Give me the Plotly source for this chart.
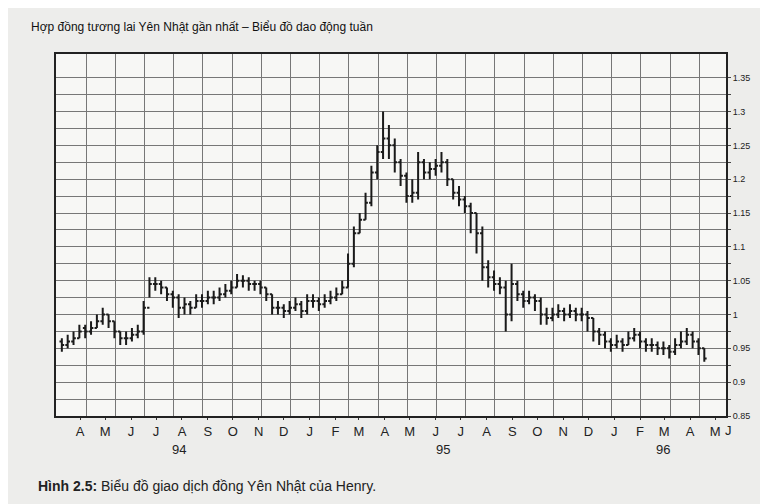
import plotly.graph_objects as go
import pandas as pd

start = "1994-03-20"
closes = [0.955,0.96,0.965,0.975,0.975,0.98,0.99,1.0,0.99,0.975,0.965,0.965,0.97,0.975,1.01,1.045,1.045,1.04,1.03,1.025,
          1.01,1.015,1.01,1.02,1.02,1.025,1.025,1.03,1.035,1.04,1.05,1.05,1.045,1.045,1.04,1.03,1.01,1.01,1.005,1.01,
          1.015,1.005,1.02,1.02,1.015,1.02,1.025,1.03,1.04,1.075,1.12,1.14,1.165,1.21,1.24,1.26,1.25,1.225,1.205,1.175,
          1.18,1.225,1.21,1.215,1.22,1.225,1.2,1.18,1.17,1.16,1.15,1.12,1.07,1.055,1.045,1.04,1.0,1.045,1.03,1.02,
          1.025,1.02,1.0,0.995,1.0,1.005,1.0,1.005,1.0,1.0,0.995,0.975,0.97,0.96,0.955,0.96,0.955,0.965,0.97,0.96,
          0.955,0.955,0.95,0.95,0.945,0.955,0.96,0.97,0.96,0.95,0.935]
opens = [0.96,0.955,0.96,0.965,0.98,0.975,0.98,0.99,1.0,0.99,0.975,0.965,0.965,0.97,0.975,1.01,1.045,1.045,1.04,1.03,
         1.025,1.01,1.015,1.01,1.02,1.02,1.025,1.025,1.03,1.035,1.04,1.05,1.05,1.045,1.045,1.04,1.03,1.01,1.01,1.005,
         1.01,1.015,1.005,1.02,1.02,1.015,1.02,1.025,1.03,1.04,1.075,1.12,1.14,1.165,1.21,1.24,1.26,1.25,1.225,1.205,
         1.175,1.18,1.225,1.21,1.215,1.22,1.225,1.2,1.18,1.17,1.16,1.15,1.12,1.07,1.055,1.045,1.04,1.0,1.045,1.03,
         1.02,1.025,1.02,1.0,0.995,1.0,1.005,1.0,1.005,1.0,1.0,0.995,0.975,0.97,0.96,0.955,0.96,0.955,0.965,0.97,
         0.96,0.955,0.955,0.95,0.95,0.945,0.955,0.96,0.97,0.96,0.95]
highs = [0.965,0.97,0.975,0.985,0.985,0.99,1.0,1.01,1.0,0.99,0.975,0.975,0.98,0.985,1.02,1.055,1.055,1.05,1.04,1.035,
         1.03,1.025,1.02,1.03,1.03,1.035,1.035,1.04,1.045,1.05,1.06,1.058,1.055,1.05,1.05,1.04,1.03,1.02,1.015,1.02,
         1.025,1.02,1.03,1.03,1.025,1.03,1.035,1.04,1.05,1.09,1.13,1.15,1.18,1.22,1.25,1.30,1.28,1.26,1.23,1.21,
         1.2,1.24,1.23,1.225,1.23,1.24,1.23,1.2,1.19,1.175,1.165,1.15,1.13,1.08,1.065,1.055,1.05,1.075,1.05,1.035,
         1.035,1.03,1.025,1.01,1.01,1.015,1.01,1.015,1.01,1.01,1.005,0.995,0.98,0.975,0.965,0.97,0.965,0.975,0.98,0.975,
         0.965,0.965,0.96,0.96,0.955,0.965,0.975,0.98,0.975,0.965,0.95]
lows = [0.945,0.95,0.955,0.965,0.965,0.97,0.98,0.985,0.98,0.965,0.955,0.955,0.96,0.965,0.97,1.025,1.035,1.03,1.02,1.01,
        0.995,1.0,1.0,1.01,1.01,1.015,1.015,1.02,1.025,1.03,1.04,1.04,1.035,1.035,1.03,1.02,1.0,1.0,0.995,1.0,
        1.005,0.995,1.0,1.01,1.005,1.01,1.015,1.02,1.03,1.04,1.07,1.12,1.14,1.16,1.2,1.23,1.23,1.21,1.19,1.165,
        1.165,1.17,1.2,1.2,1.205,1.21,1.19,1.17,1.16,1.15,1.12,1.09,1.05,1.04,1.035,1.03,0.975,0.99,1.02,1.01,
        1.015,1.005,0.985,0.985,0.99,0.995,0.99,0.995,0.99,0.99,0.975,0.96,0.955,0.95,0.945,0.95,0.945,0.955,0.96,0.95,
        0.945,0.945,0.94,0.94,0.935,0.94,0.95,0.955,0.95,0.94,0.93]

dates = pd.date_range(start, periods=len(closes), freq="7D")

month_dates = pd.date_range("1994-04-01", "1996-05-01", freq="MS") + pd.Timedelta(days=10)
month_letters = [d.strftime("%b")[0] for d in month_dates]
year_labels = ["94", "95", "96"]
year_pos = ["1994-08-08", "1995-06-20", "1996-03-10"]
price_ticks = [0.85 + 0.025 * i for i in range(21)]
price_text = [("%g" % round(v, 2)) if i % 2 == 0 else "" for i, v in enumerate(price_ticks)]

fig = go.Figure(go.Ohlc(x=dates, open=opens, high=highs, low=lows, close=closes,
                        increasing_line_color="#1a1a1a", decreasing_line_color="#1a1a1a",
                        line_width=2, tickwidth=0.4, hoverinfo="skip"))
fig.update_layout(
    width=768, height=504, margin=dict(l=48, r=50, t=46, b=96),
    paper_bgcolor="#ededeb", plot_bgcolor="#f7f7f5", showlegend=False,
    font=dict(family="Liberation Sans", color="#222"),
    xaxis=dict(rangeslider_visible=False, range=["1994-03-13", "1996-05-24"],
               tickvals=month_dates, ticktext=month_letters, showgrid=False,
               ticks="outside", ticklen=2, tickcolor="#333", tickfont=dict(size=13),
               minor=dict(showgrid=True, gridcolor="#777", gridwidth=1, tick0="1994-04-18",
                          dtick=35 * 86400000),
               showline=True, linecolor="#222", linewidth=2, mirror=True),
    yaxis=dict(side="right", range=[0.85, 1.385], tickvals=price_ticks, ticktext=price_text,
               showgrid=True, gridcolor="#777", gridwidth=1, tickfont=dict(size=9),
               ticks="outside", ticklen=3, zeroline=False,
               showline=True, linecolor="#222", linewidth=2, mirror=True),
)
fig.add_annotation(text="Hợp đồng tương lai Yên Nhật gần nhất – Biểu đồ dao động tuần",
                   xref="paper", yref="paper", x=-0.04, y=1.05, xanchor="left", yanchor="bottom",
                   showarrow=False, font=dict(size=12, color="#111"))
fig.add_annotation(text="J", xref="paper", yref="paper", x=1.012, y=-0.015, yanchor="top",
                   showarrow=False, font=dict(size=13))
for lab, pos in zip(year_labels, year_pos):
    fig.add_annotation(text=lab, x=pos, xref="x", yref="paper", y=-0.065, yanchor="top",
                       showarrow=False, font=dict(size=13))
fig.add_annotation(text="<b>Hình 2.5:</b> Biểu đồ giao dịch đồng Yên Nhật của Henry.",
                   xref="paper", yref="paper", x=-0.03, y=-0.165, xanchor="left", yanchor="top",
                   showarrow=False, font=dict(size=14, color="#222"))
fig.write_html("out.html")
